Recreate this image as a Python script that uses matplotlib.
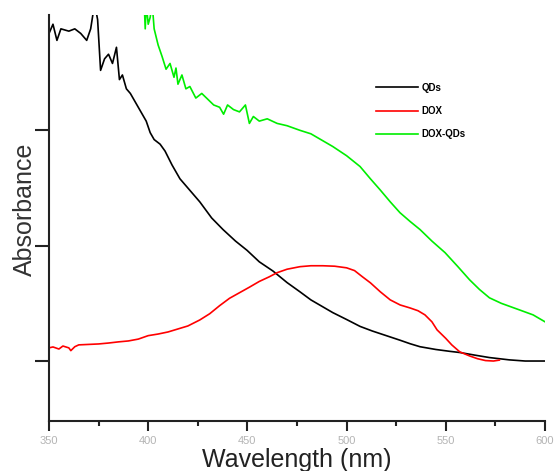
import matplotlib
matplotlib.use("Agg")
import matplotlib.pyplot as plt
from matplotlib.ticker import MultipleLocator

# ---- data ----
qds_x = [350, 352, 354, 356, 360, 363, 366, 369, 371, 373, 374.5, 376, 378, 380, 382, 384,
         385.5, 387, 389, 391, 393, 395, 397, 399, 401, 403, 406, 408.5, 412, 416, 421, 426,
         432, 437.7, 444, 449.8, 456, 462.9, 470, 476.5, 482, 487, 493, 500, 506.8, 513, 520,
         527, 532, 537, 545, 552, 557, 565, 572, 582, 590, 600]
qds_y = [1.42, 1.46, 1.39, 1.44, 1.43, 1.44, 1.42, 1.39, 1.44, 1.55, 1.48, 1.26, 1.31, 1.33,
         1.29, 1.36, 1.22, 1.24, 1.18, 1.16, 1.13, 1.10, 1.07, 1.04, 0.99, 0.96, 0.94, 0.91,
         0.85, 0.79, 0.74, 0.69, 0.62, 0.57, 0.52, 0.48, 0.43, 0.39, 0.34, 0.30, 0.265, 0.24,
         0.21, 0.18, 0.15, 0.13, 0.11, 0.09, 0.075, 0.062, 0.05, 0.042, 0.037, 0.025, 0.015,
         0.005, 0.0, 0.0]

dox_x = [350, 352, 355, 357, 360, 361, 363, 365, 370, 375, 380, 385, 390, 395, 400, 405, 410,
         415, 420, 426, 431, 436, 441, 446, 451, 456, 461, 465, 470, 476.5, 482, 488, 494, 500,
         504, 508, 512, 517, 522, 527, 532, 536, 539.5, 543, 545.6, 550, 553, 557, 562, 566,
         570, 574, 577]
dox_y = [0.057, 0.061, 0.052, 0.065, 0.057, 0.045, 0.062, 0.070, 0.072, 0.074, 0.078, 0.083,
         0.087, 0.095, 0.110, 0.117, 0.126, 0.139, 0.152, 0.178, 0.205, 0.240, 0.272, 0.296,
         0.320, 0.345, 0.365, 0.383, 0.398, 0.409, 0.413, 0.413, 0.411, 0.404, 0.392, 0.365,
         0.339, 0.300, 0.265, 0.243, 0.230, 0.218, 0.200, 0.170, 0.135, 0.098, 0.070, 0.040,
         0.022, 0.010, 0.002, 0.0, 0.004]

doxqds_x = [398, 398.5, 399, 400, 401, 402, 403, 405, 407, 409, 411, 413, 414, 415, 417, 419,
            421, 424, 427, 430, 433, 436, 438, 440, 443, 446, 449, 451, 453, 456, 460, 465,
            470, 476.5, 482, 487, 493, 500, 506.8, 512, 516.8, 522, 526.9, 532, 537, 543,
            549.6, 556, 562, 567, 572, 578, 587, 594, 600]
doxqds_y = [1.55, 1.44, 1.55, 1.46, 1.49, 1.55, 1.44, 1.37, 1.32, 1.265, 1.29, 1.23, 1.27, 1.20,
            1.24, 1.18, 1.19, 1.14, 1.16, 1.135, 1.11, 1.10, 1.07, 1.11, 1.09, 1.08, 1.11, 1.03,
            1.06, 1.04, 1.05, 1.03, 1.02, 1.0, 0.985, 0.96, 0.93, 0.89, 0.843, 0.79, 0.743,
            0.69, 0.643, 0.605, 0.570, 0.52, 0.470, 0.41, 0.352, 0.31, 0.274, 0.25, 0.222,
            0.20, 0.17]

series_labels = ["QDs", "DOX", "DOX-QDs"]
x_ticks = [350, 400, 450, 500, 550, 600]
y_ticks = [0.0, 0.5, 1.0]

# ---- figure ----
plt.rcParams['font.family'] = ['Liberation Sans', 'DejaVu Sans']
fig = plt.figure(figsize=(5.56, 4.71), dpi=100)
ax = fig.add_axes([49/556, (471-421)/471, (545-49)/556, (421-15)/471])

ax.plot(qds_x, qds_y, color='black', lw=1.2, label=series_labels[0])
ax.plot(dox_x, dox_y, color='#ff0000', lw=1.2, label=series_labels[1])
ax.plot(doxqds_x, doxqds_y, color='#00ee00', lw=1.2, label=series_labels[2])

ax.set_xlim(350, 600)
ax.set_ylim(-0.26, 1.5)
ax.spines['top'].set_visible(False)
ax.spines['right'].set_visible(False)
for s in ('left', 'bottom'):
    ax.spines[s].set_linewidth(1.5)
    ax.spines[s].set_color('#222222')

ax.set_xticks(x_ticks)
ax.set_xticklabels([str(t) for t in x_ticks])
ax.xaxis.set_minor_locator(MultipleLocator(25))
ax.set_yticks(y_ticks)
ax.set_yticklabels([])
ax.tick_params(axis='x', which='major', direction='out', length=7, width=1.5,
               color='#222222', labelsize=8, labelcolor='#b4b4b4', pad=4)
ax.tick_params(axis='x', which='minor', direction='out', length=3.5, width=1.5, color='#222222')
ax.tick_params(axis='y', which='major', direction='out', length=10, width=1.5, color='#222222')

ax.set_xlabel("Wavelength (nm)", fontsize=18, color='#222222')
ax.xaxis.set_label_coords(0.5, (421-448)/406)
ax.set_ylabel("Absorbance", fontsize=18, color='#333333')
ax.yaxis.set_label_coords((37-49)/496, (421-209)/406)

leg = ax.legend(loc='upper left', bbox_to_anchor=((367-49)/496, (421-74)/406),
                frameon=False, handlelength=4.3, handletextpad=0.4, labelspacing=1.36,
                prop={'size': 7, 'weight': 'bold'})

fig.savefig("out.png", dpi=100)
